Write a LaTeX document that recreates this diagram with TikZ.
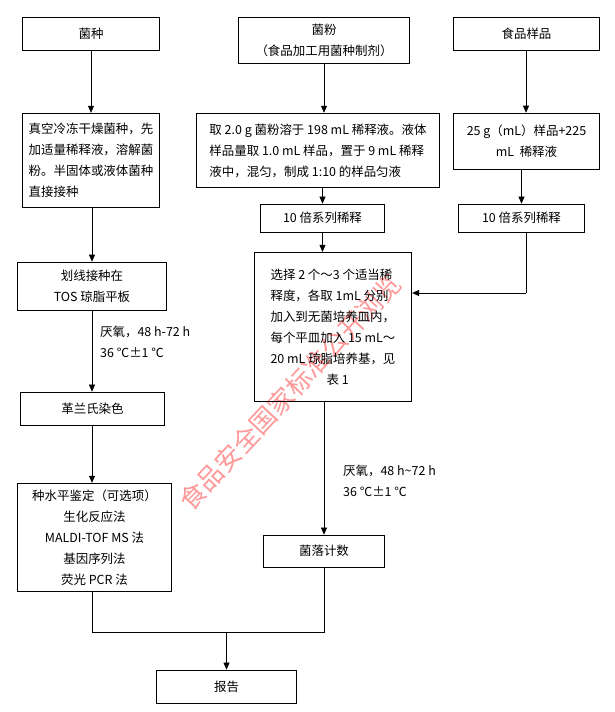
\documentclass[tikz,border=0pt]{standalone}
\usepackage{fontspec}
\setmainfont{Noto Sans CJK SC}
\usetikzlibrary{arrows.meta}
\tikzset{
  box/.style={draw, thick, align=center, inner sep=2pt, font=\fontsize{12.5}{21}\selectfont},
  lbl/.style={align=left, anchor=north west, inner sep=0pt, font=\fontsize{12.5}{21}\selectfont},
  flow/.style={-{Triangle[length=7pt,width=6pt]}, semithick},
  link/.style={semithick}
}
\begin{document}
\begin{tikzpicture}[x=1bp,y=-1bp]
\useasboundingbox (0,0) rectangle (615,712);

% watermark
\node[rotate=47, text=red!40, font=\fontsize{26}{26}\selectfont] (wm) at (290,392) {食品安全国家标准公开浏览};

% top row
\node[box, minimum width=138, minimum height=33] (strain) at (91,33.5) {菌种};
\node[box, minimum width=172, minimum height=46] (powder) at (324,40) {菌粉\\（食品加工用菌种制剂）};
\node[box, minimum width=147, minimum height=33] (food) at (526.5,33.5) {食品样品};

% second row
\node[box, minimum width=138, minimum height=95, align=left] (revive) at (91,160.5)
  {真空冷冻干燥菌种，先\\加适量稀释液，溶解菌\\粉。半固体或液体菌种\\直接接种};
\node[box, minimum width=244, minimum height=75, align=left] (dissolve) at (318,150.5)
  {取 2.0 g 菌粉溶于 198 mL 稀释液。液体\\样品量取 1.0 mL 样品，置于 9 mL 稀释\\液中，混匀，制成 1:10 的样品匀液};
\node[box, minimum width=147, minimum height=57] (mix) at (526.5,141.5)
  {25 g（mL）样品+225\\mL\ \ 稀释液};

% dilution
\node[box, minimum width=125, minimum height=28] (dilm) at (322.5,218) {10 倍系列稀释};
\node[box, minimum width=127, minimum height=28] (dilr) at (521.5,218) {10 倍系列稀释};

% streak and plates
\node[box, minimum width=150, minimum height=48] (streak) at (92,286) {划线接种在\\TOS 琼脂平板};
\node[box, minimum width=158, minimum height=150, align=left] (plate) at (333,327)
  {选择 2 个～3 个适当稀\\释度，各取 1mL 分别\\加入到无菌培养皿内，\\每个平皿加入 15 mL～\\20 mL 琼脂培养基，见\\\hspace*{4.5em}表 1};

\node[lbl] (anaer1) at (100,326) {厌氧，48 h-72 h\\36 ℃±1 ℃};
\node[box, minimum width=145, minimum height=33] (gram) at (92.5,408.5) {革兰氏染色};
\node[lbl] (anaer2) at (343,465) {厌氧，48 h\textasciitilde 72 h\\36 ℃±1 ℃};

\node[box, minimum width=155, minimum height=109] (ident) at (94.5,537.5)
  {种水平鉴定（可选项）\\生化反应法\\MALDI-TOF MS 法\\基因序列法\\荧光 PCR 法};
\node[box, minimum width=122, minimum height=32] (count) at (324,551) {菌落计数};
\node[box, minimum width=141, minimum height=33] (report) at (226.5,686.5) {报告};

\coordinate (jl) at (92,632);
\coordinate (jr) at (324,632);
\coordinate (jm) at (226.5,632);
\coordinate (kr) at (526,293);

% connectors
\draw[flow] (strain.south -| revive) -- (revive.north);
\draw[flow] (revive.south -| streak) -- (streak.north);
\draw[flow] (streak.south) -- (gram.north -| streak);
\draw[flow] (gram.south -| streak) -- (ident.north -| streak);
\draw[flow] (powder.south) -- (dissolve.north -| powder);
\draw[flow] (dissolve.south -| dilm) -- (dilm.north);
\draw[flow] (dilm.south) -- (plate.north -| dilm);
\draw[flow] (plate.south -| count) -- (count.north);
\draw[flow] (food.south -| kr) -- (mix.north -| kr);
\draw[flow] (mix.south -| dilr) -- (dilr.north);
\draw[link] (dilr.south -| kr) -- (kr);
\draw[flow] (kr) -- (plate.east |- kr);
\draw[link] (ident.south -| jl) -- (jl) -- (jr) -- (count.south);
\draw[flow] (jm) -- (report.north);
\end{tikzpicture}
\end{document}
